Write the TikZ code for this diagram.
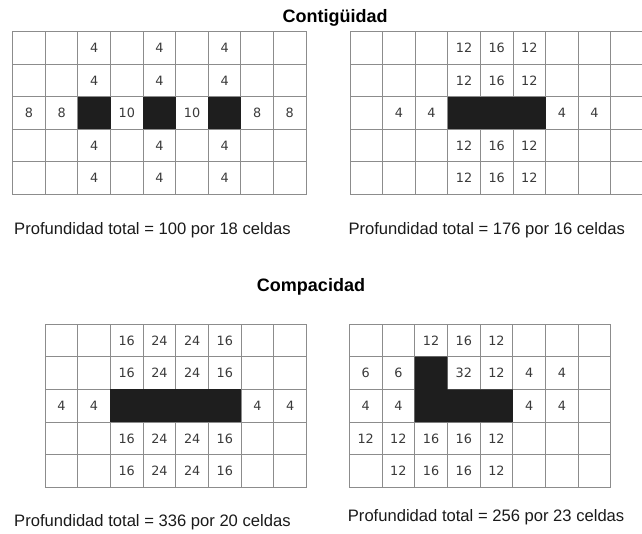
\documentclass[tikz,border=0pt]{standalone}
\usepackage{fontspec}
\setmainfont{Liberation Sans}
\newfontfamily\numfont{DejaVu Sans}
\definecolor{gridgray}{HTML}{8C8C8C}
\definecolor{cellblack}{HTML}{1E1E1E}
\definecolor{numgray}{HTML}{3A3A3A}
\definecolor{textblack}{HTML}{1A1A1A}
\newcommand\drawcellgrid[2]{%
  \foreach \i in {0,...,#1} \draw[gridline] (\i,0) -- (\i,#2);
  \foreach \j in {0,...,#2} \draw[gridline] (0,\j) -- (#1,\j);
}
\begin{document}
\begin{tikzpicture}[x=1pt,y=-1pt,
  gridline/.style={draw=gridgray, line width=0.9pt, line cap=rect},
  blk/.style={fill=cellblack},
  num/.style={font=\numfont\fontsize{12.8}{14}\selectfont, text=numgray, inner sep=0pt},
  title/.style={font=\fontsize{18}{20}\selectfont\bfseries, text=black, inner sep=0pt, anchor=base},
  caption/.style={font=\fontsize{16.6}{18}\selectfont, text=textblack, inner sep=0pt, anchor=base west}]
\useasboundingbox (0,0) rectangle (642,533);

% titles
\node[title] (t1) at (335,22) {Contigüidad};
\node[title] (t2) at (311,291.7) {Compacidad};

% grid 1
\begin{scope}[shift={(12.7,31.7)}, x=32.6pt, y=-32.5pt]
  \drawcellgrid{9}{5}
  \foreach \c in {3,5,7} \fill[blk] (\c-1,2) rectangle (\c,3);
  \foreach \c/\r/\v in {3/1/4,5/1/4,7/1/4,3/2/4,5/2/4,7/2/4,
      1/3/8,2/3/8,4/3/10,6/3/10,8/3/8,9/3/8,
      3/4/4,5/4/4,7/4/4,3/5/4,5/5/4,7/5/4}
    \node[num] (a-\c-\r) at (\c-0.5,\r-0.5) {\v};
\end{scope}

% grid 2
\begin{scope}[shift={(350,31.7)}, x=32.6pt, y=-32.5pt]
  \drawcellgrid{9}{5}
  \fill[blk] (3,2) rectangle (6,3);
  \foreach \c/\r/\v in {4/1/12,5/1/16,6/1/12,4/2/12,5/2/16,6/2/12,
      2/3/4,3/3/4,7/3/4,8/3/4,
      4/4/12,5/4/16,6/4/12,4/5/12,5/5/16,6/5/12}
    \node[num] (b-\c-\r) at (\c-0.5,\r-0.5) {\v};
\end{scope}

% grid 3
\begin{scope}[shift={(45,324)}, x=32.7pt, y=-32.7pt]
  \drawcellgrid{8}{5}
  \fill[blk] (2,2) rectangle (6,3);
  \foreach \c/\r/\v in {3/1/16,4/1/24,5/1/24,6/1/16,3/2/16,4/2/24,5/2/24,6/2/16,
      1/3/4,2/3/4,7/3/4,8/3/4,
      3/4/16,4/4/24,5/4/24,6/4/16,3/5/16,4/5/24,5/5/24,6/5/16}
    \node[num] (c-\c-\r) at (\c-0.5,\r-0.5) {\v};
\end{scope}

% grid 4
\begin{scope}[shift={(349.3,324)}, x=32.7pt, y=-32.7pt]
  \drawcellgrid{8}{5}
  \fill[blk] (2,1) -- (3,1) -- (3,2) -- (5,2) -- (5,3) -- (2,3) -- cycle;
  \foreach \c/\r/\v in {3/1/12,4/1/16,5/1/12,
      1/2/6,2/2/6,4/2/32,5/2/12,6/2/4,7/2/4,
      1/3/4,2/3/4,6/3/4,7/3/4,
      1/4/12,2/4/12,3/4/16,4/4/16,5/4/12,
      2/5/12,3/5/16,4/5/16,5/5/12}
    \node[num] (d-\c-\r) at (\c-0.5,\r-0.5) {\v};
\end{scope}

% captions
\node[caption] (l1) at (14,234.3) {Profundidad total = 100 por 18 celdas};
\node[caption] (l2) at (348.3,234.3) {Profundidad total = 176 por 16 celdas};
\node[caption] (l3) at (14,526) {Profundidad total = 336 por 20 celdas};
\node[caption] (l4) at (347.7,521.7) {Profundidad total = 256 por 23 celdas};
\end{tikzpicture}
\end{document}
